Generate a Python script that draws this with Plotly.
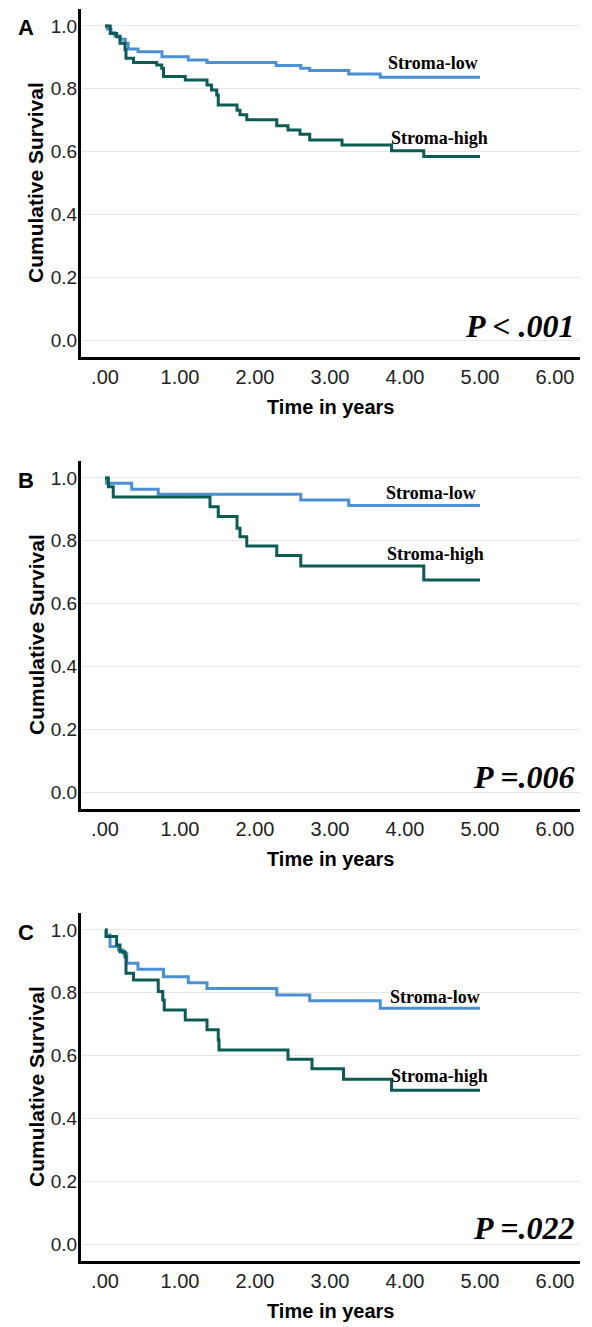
import plotly.graph_objects as go

# ---------------- data ----------------
x_tick_vals = [0, 1, 2, 3, 4, 5, 6]
x_tick_text = [".00", "1.00", "2.00", "3.00", "4.00", "5.00", "6.00"]
y_tick_vals = [0.0, 0.2, 0.4, 0.6, 0.8, 1.0]
y_tick_text = ["0.0", "0.2", "0.4", "0.6", "0.8", "1.0"]

groups = ["Stroma-low", "Stroma-high"]
panels = ["A", "B", "C"]
p_texts = ["P < .001", "P =.006", "P =.022"]

# Panel A
A_low_t = [0.0, 0.03, 0.08, 0.13, 0.20, 0.27, 0.31, 0.44, 0.76, 1.11, 1.36, 2.28, 2.61, 2.73, 3.25, 3.67, 5.0]
A_low_s = [1.0, 0.990, 0.978, 0.968, 0.958, 0.945, 0.927, 0.918, 0.902, 0.892, 0.884, 0.874, 0.865, 0.858, 0.847, 0.837, 0.837]
A_high_t = [0.0, 0.07, 0.155, 0.20, 0.267, 0.28, 0.38, 0.69, 0.756, 0.78, 1.07, 1.36, 1.42, 1.49, 1.51, 1.76, 1.80, 1.89, 2.29, 2.44, 2.60, 2.73, 3.16, 3.82, 4.25, 5.0]
A_high_s = [1.0, 0.976, 0.966, 0.945, 0.924, 0.897, 0.884, 0.876, 0.865, 0.839, 0.828, 0.812, 0.796, 0.780, 0.748, 0.732, 0.717, 0.701, 0.682, 0.669, 0.655, 0.637, 0.621, 0.603, 0.584, 0.584]

# Panel B
B_low_t = [0.0, 0.02, 0.356, 0.71, 2.61, 3.25, 5.0]
B_low_s = [1.0, 0.983, 0.964, 0.948, 0.930, 0.912, 0.912]
B_high_t = [0.0, 0.045, 0.11, 1.40, 1.51, 1.76, 1.80, 1.89, 2.29, 2.61, 4.25, 5.0]
B_high_s = [1.0, 0.972, 0.939, 0.908, 0.877, 0.840, 0.813, 0.783, 0.753, 0.720, 0.675, 0.675]

# Panel C
C_low_t = [0.0, 0.02, 0.067, 0.18, 0.24, 0.29, 0.44, 0.78, 1.11, 1.36, 2.29, 2.73, 3.67, 5.0]
C_low_s = [1.0, 0.984, 0.947, 0.936, 0.926, 0.894, 0.875, 0.851, 0.832, 0.814, 0.793, 0.775, 0.751, 0.751]
C_high_t = [0.0, 0.013, 0.155, 0.20, 0.267, 0.28, 0.38, 0.71, 0.77, 0.79, 1.07, 1.36, 1.51, 1.52, 2.44, 2.76, 3.18, 3.82, 5.0]
C_high_s = [1.0, 0.979, 0.952, 0.931, 0.915, 0.862, 0.841, 0.804, 0.777, 0.745, 0.713, 0.682, 0.650, 0.618, 0.588, 0.558, 0.525, 0.490, 0.490]

series = [
    [(A_low_t, A_low_s), (A_high_t, A_high_s)],
    [(B_low_t, B_low_s), (B_high_t, B_high_s)],
    [(C_low_t, C_low_s), (C_high_t, C_high_s)],
]

# label positions (time, survival) for the group labels
label_pos = [
    [(5.0, 0.882), (5.13, 0.643)],
    [(4.97, 0.953), (5.08, 0.757)],
    [(5.02, 0.788), (5.13, 0.535)],
]
p_y = [0.045, 0.048, 0.051]

# ---------------- styling ----------------
W, H = 592, 1327
ML, MR = 81, 12
PW = W - ML - MR
colors = ["#4a90d2", "#0c5c55"]
sans = "Liberation Sans, Arial, sans-serif"
serif = "Liberation Serif, Times New Roman, serif"

# pixel extents of each panel (top, bottom)
panel_px = [(9, 357), (461, 809), (913, 1261)]
x_range = [-0.32, 6.333]
y_range = [-0.054, 1.054]


def px_x(px):
    return (px - ML) / PW


def px_y(py):
    return 1 - py / H


fig = go.Figure()
annotations = []
layout = dict(
    width=W, height=H,
    margin=dict(l=ML, r=MR, t=0, b=0, autoexpand=False),
    paper_bgcolor="white", plot_bgcolor="white",
    showlegend=False,
)

for i, pan in enumerate(panels):
    xa = "x" if i == 0 else f"x{i+1}"
    ya = "y" if i == 0 else f"y{i+1}"
    xkey = "xaxis" if i == 0 else f"xaxis{i+1}"
    ykey = "yaxis" if i == 0 else f"yaxis{i+1}"
    top, bot = panel_px[i]
    dom = [px_y(bot), px_y(top)]
    layout[xkey] = dict(
        domain=[0, 1], range=x_range, anchor=ya,
        tickvals=x_tick_vals, ticktext=x_tick_text,
        showgrid=False, zeroline=False,
        showline=True, linecolor="black", linewidth=3,
        ticks="", ticklabelstandoff=0,
        tickfont=dict(family=sans, size=20, color="#222"),
        fixedrange=True,
    )
    layout[ykey] = dict(
        domain=dom, range=y_range, anchor=xa,
        tickvals=y_tick_vals, ticktext=y_tick_text,
        showgrid=True, gridcolor="#e6e6e6", gridwidth=1,
        zeroline=False,
        showline=True, linecolor="black", linewidth=3,
        ticks="", ticklabelstandoff=-3,
        tickfont=dict(family=sans, size=19, color="#222"),
        fixedrange=True,
    )
    for g, (t, s) in enumerate(series[i]):
        fig.add_trace(go.Scatter(
            x=t, y=s, mode="lines", line=dict(shape="hv", color=colors[g], width=3),
            xaxis=xa, yaxis=ya, name=groups[g], hoverinfo="skip",
        ))
        lx, ly = label_pos[i][g]
        annotations.append(dict(
            x=lx, y=ly, xref=xa, yref=ya, text=f"<b>{groups[g]}</b>",
            showarrow=False, xanchor="right", yanchor="middle",
            font=dict(family=serif, size=18, color="black"),
        ))
    # p-value
    annotations.append(dict(
        x=6.29, y=p_y[i], xref=xa, yref=ya,
        text=f"<b><i>{p_texts[i].replace('<', '&lt;')}</i></b>",
        showarrow=False, xanchor="right", yanchor="middle",
        font=dict(family=serif, size=32, color="black"),
    ))
    # panel letter
    annotations.append(dict(
        x=px_x(26), y=px_y(top + 19), xref="paper", yref="paper",
        text=f"<b>{pan}</b>", showarrow=False, xanchor="center", yanchor="middle",
        font=dict(family=sans, size=22, color="black"),
    ))
    # y-axis title
    annotations.append(dict(
        x=px_x(36), y=px_y((top + bot) / 2), xref="paper", yref="paper",
        text="<b>Cumulative Survival</b>", textangle=-90, showarrow=False,
        xanchor="center", yanchor="middle",
        font=dict(family=sans, size=21, color="black"),
    ))
    # x-axis title
    annotations.append(dict(
        x=px_x(330), y=px_y(bot + 50), xref="paper", yref="paper",
        text="<b>Time in years</b>", showarrow=False,
        xanchor="center", yanchor="middle",
        font=dict(family=sans, size=20, color="black"),
    ))

layout["annotations"] = annotations
fig.update_layout(**layout)
fig.write_html("out.html", config={"displayModeBar": False},
               post_script="document.body.style.margin='0px';")
